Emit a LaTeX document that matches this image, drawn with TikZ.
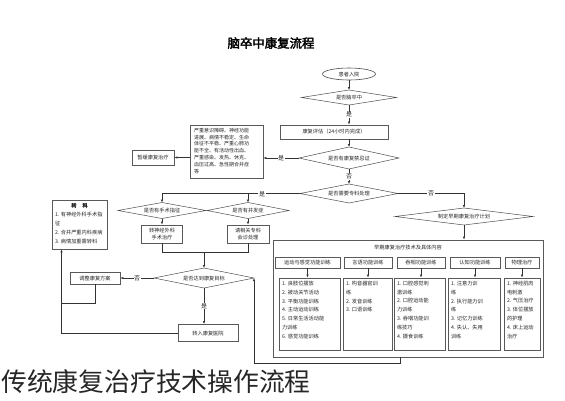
\documentclass[tikz,border=0pt]{standalone}
\usepackage{fontspec}
\setmainfont{Noto Sans CJK SC}
\newfontfamily\boldcjk[FakeBold=2.5]{Noto Sans CJK SC}
\usetikzlibrary{shapes.geometric,arrows.meta,calc}
\newcommand\cbx[2]{\parbox[c][66pt][t]{#1}{\fontsize{5.2}{8.8}\selectfont #2}}
\begin{document}
\begin{tikzpicture}[x=1pt,y=-1pt,
  every node/.style={font=\fontsize{5.2}{7}\selectfont, text=black!85},
  ln/.style={draw=black!80, line width=0.5pt},
  arr/.style={ln, -{Latex[length=3pt,width=2.4pt]}},
  box/.style={draw=black!65, line width=0.9pt, inner sep=0pt, align=center},
  cbox/.style={draw=black!65, line width=0.9pt, inner sep=3pt},
  dia/.style={diamond, draw=black!70, line width=0.5pt, inner sep=0pt, outer sep=0pt},
  dsz/.style n args={3}{minimum width=#1, minimum height=#2, aspect=#3},
  lbl/.style={fill=white, inner sep=0.6pt, font=\fontsize{6}{6}\selectfont},
]
\fill[white] (0,0) rectangle (565,400);
\useasboundingbox (0,0) rectangle (565,400);

% title
\node[font=\boldcjk\fontsize{12.4}{12.4}\selectfont, text=black] (title) at (271,43) {脑卒中康复流程};

% main column
\node[ellipse, draw=black!70, line width=0.6pt, minimum width=53, minimum height=12, inner sep=0pt] (oval) at (349,74) {患者入院};
\node[dia, dsz={95}{15}{6.33}] (d1) at (349,97.5) {是否脑卒中};
\node[box, minimum width=108, minimum height=14] (eval) at (334,132) {康复评估（24小时内完成）};
\node[dia, dsz={100}{22}{4.55}] (d2) at (349,158) {是否有康复禁忌证};
\node[box, minimum width=73, minimum height=53, inner sep=3pt] (boxC) at (226.5,151.5)
  {\parbox[c][47pt][t]{65pt}{\fontsize{5}{6.8}\selectfont
  严重意识障碍、神经功能\\进展、病情不稳定、生命\\体征不平稳、严重心肺功\\能不全、有活动性出血、\\严重感染、发热、休克、\\血压过高、急性期合并症\\等}};
\node[box, minimum width=42, minimum height=15] (boxD) at (153,157.5) {暂缓康复治疗};
\node[dia, dsz={98}{19}{5.16}] (d3) at (349,193.5) {是否需要专科处理};
\node[dia, dsz={138}{17}{8.1}] (d4) at (464,216.5) {制定早期康复治疗计划};

% left branch
\node[dia, dsz={88}{16}{5.5}] (dA) at (162,210.5) {是否有手术指征};
\node[dia, dsz={82}{16}{5.12}] (dB) at (248,210.5) {是否有并发症};
\node[box, minimum width=41, minimum height=18] (boxL) at (162,234) {\fontsize{5.2}{7.5}\selectfont 转神经外科\\手术治疗};
\node[box, minimum width=42, minimum height=18] (boxR) at (248,234) {\fontsize{5.2}{7.5}\selectfont 请相关专科\\会诊处理};
\node[box, minimum width=55, minimum height=49, inner sep=3pt] (zk) at (79.5,224.5)
  {\parbox[c][43pt][t]{49pt}{\fontsize{5.2}{9}\selectfont
  \makebox[\linewidth]{\boldcjk 转\hspace{6pt}科}\\1. 有神经外科手术指\\征\\2. 合并严重内科疾病\\3. 病情加重需转科}};
\node[dia, dsz={100}{20}{5}] (bd) at (204,278) {是否达到康复目标};
\node[box, minimum width=50, minimum height=12] (b1) at (95,278) {调整康复方案};
\node[box, minimum width=60, minimum height=17] (b2) at (208,333) {转入康复医院};

% container
\node[draw=black!65, line width=0.9pt, minimum width=270, minimum height=117, inner sep=0pt] (cont) at (408,298.5) {};
\node (ctitle) at (408,248) {早期康复治疗技术及具体内容};
\node[box, minimum width=65, minimum height=11] (h1) at (307.5,262.5) {运动与感觉功能训练};
\node[box, minimum width=48, minimum height=11] (h2) at (368,262.5) {言语功能训练};
\node[box, minimum width=48, minimum height=11] (h3) at (421,262.5) {吞咽功能训练};
\node[box, minimum width=50, minimum height=11] (h4) at (475,262.5) {认知功能训练};
\node[box, minimum width=34, minimum height=11] (h5) at (522,262.5) {物理治疗};
\node[cbox] (c1) at (309.5,314) {\cbx{55pt}{1. 良肢位摆放\\2. 被动关节活动\\3. 平衡功能训练\\4. 主动运动训练\\5. 日常生活活动能\\力训练\\6. 感觉功能训练}};
\node[cbox] (c2) at (367.5,314) {\cbx{43pt}{1. 构音器官训\\练\\2. 发音训练\\3. 口语训练}};
\node[cbox] (c3) at (419.5,314) {\cbx{45pt}{1. 口腔感觉刺\\激训练\\2. 口腔运动能\\力训练\\3. 吞咽功能训\\练技巧\\4. 摄食训练}};
\node[cbox] (c4) at (474,314) {\cbx{46pt}{1. 注意力训\\练\\2. 执行能力训\\练\\3. 记忆力训练\\4. 失认、失用\\训练}};
\node[cbox] (c5) at (522,314) {\cbx{30pt}{1. 神经肌肉\\电刺激\\2. 气压治疗\\3. 体位摆放\\的护理\\4. 床上运动\\治疗}};

% caption
\node[anchor=west, inner sep=0pt, font=\fontsize{25.8}{25.8}\selectfont, text=black!85] (cap) at (1,382) {传统康复治疗技术操作流程};

% connectors
\draw[arr] (oval.south) -- (d1.north);
\draw[arr] (d1.south) -- node[lbl] (l1) {是} (d1.south |- eval.north);
\draw[arr] (d2.north |- eval.south) -- (d2.north);
\draw[arr] (d2.west) -- node[lbl] (l2) {是} (d2.west -| boxC.east);
\draw[arr] (boxD.east -| boxC.west) -- (boxD.east);
\draw[arr] (d2.south) -- node[lbl] (l3) {否} (d3.north);
\draw[arr] (d3.west) -| (dA.north);
\draw[arr] (dB.north |- d3.west) -- (dB.north);
\node[lbl] (l4) at (262,194) {是};
\draw[arr] (d3.east) -| node[lbl, pos=0.25] (l5) {否} (d4.north);
\draw[arr] (d4.south) -- (d4.south |- cont.north);
\foreach \i in {1,...,5} \draw[arr] (h\i.south) -- (h\i.south |- c\i.north);
\draw[arr] (dA.south) -- (boxL.north);
\draw[arr] (dB.south) -- (boxR.north);
\draw[ln] (boxL.south) -- ++(0,9) -| (boxR.south);
\coordinate (jn) at (204,252);
\draw[arr] (jn) -- (bd.north);
\draw[arr] (bd.west) -- node[lbl] (l6) {否} (b1.east);
\draw[arr] (bd.south) -- node[lbl] (l7) {是} (bd.south |- b2.north);
\coordinate (zb) at ($(zk.south west)+(10,0)$);
\draw[arr] (b2.west) -| (zb);
\coordinate (zj) at (62,303);
\draw[ln] (b1.south) |- (zj);
\draw[arr] ($(cont.south)+(-8,0)$) -- ++(0,6) -| (bd.east);
\end{tikzpicture}
\end{document}
